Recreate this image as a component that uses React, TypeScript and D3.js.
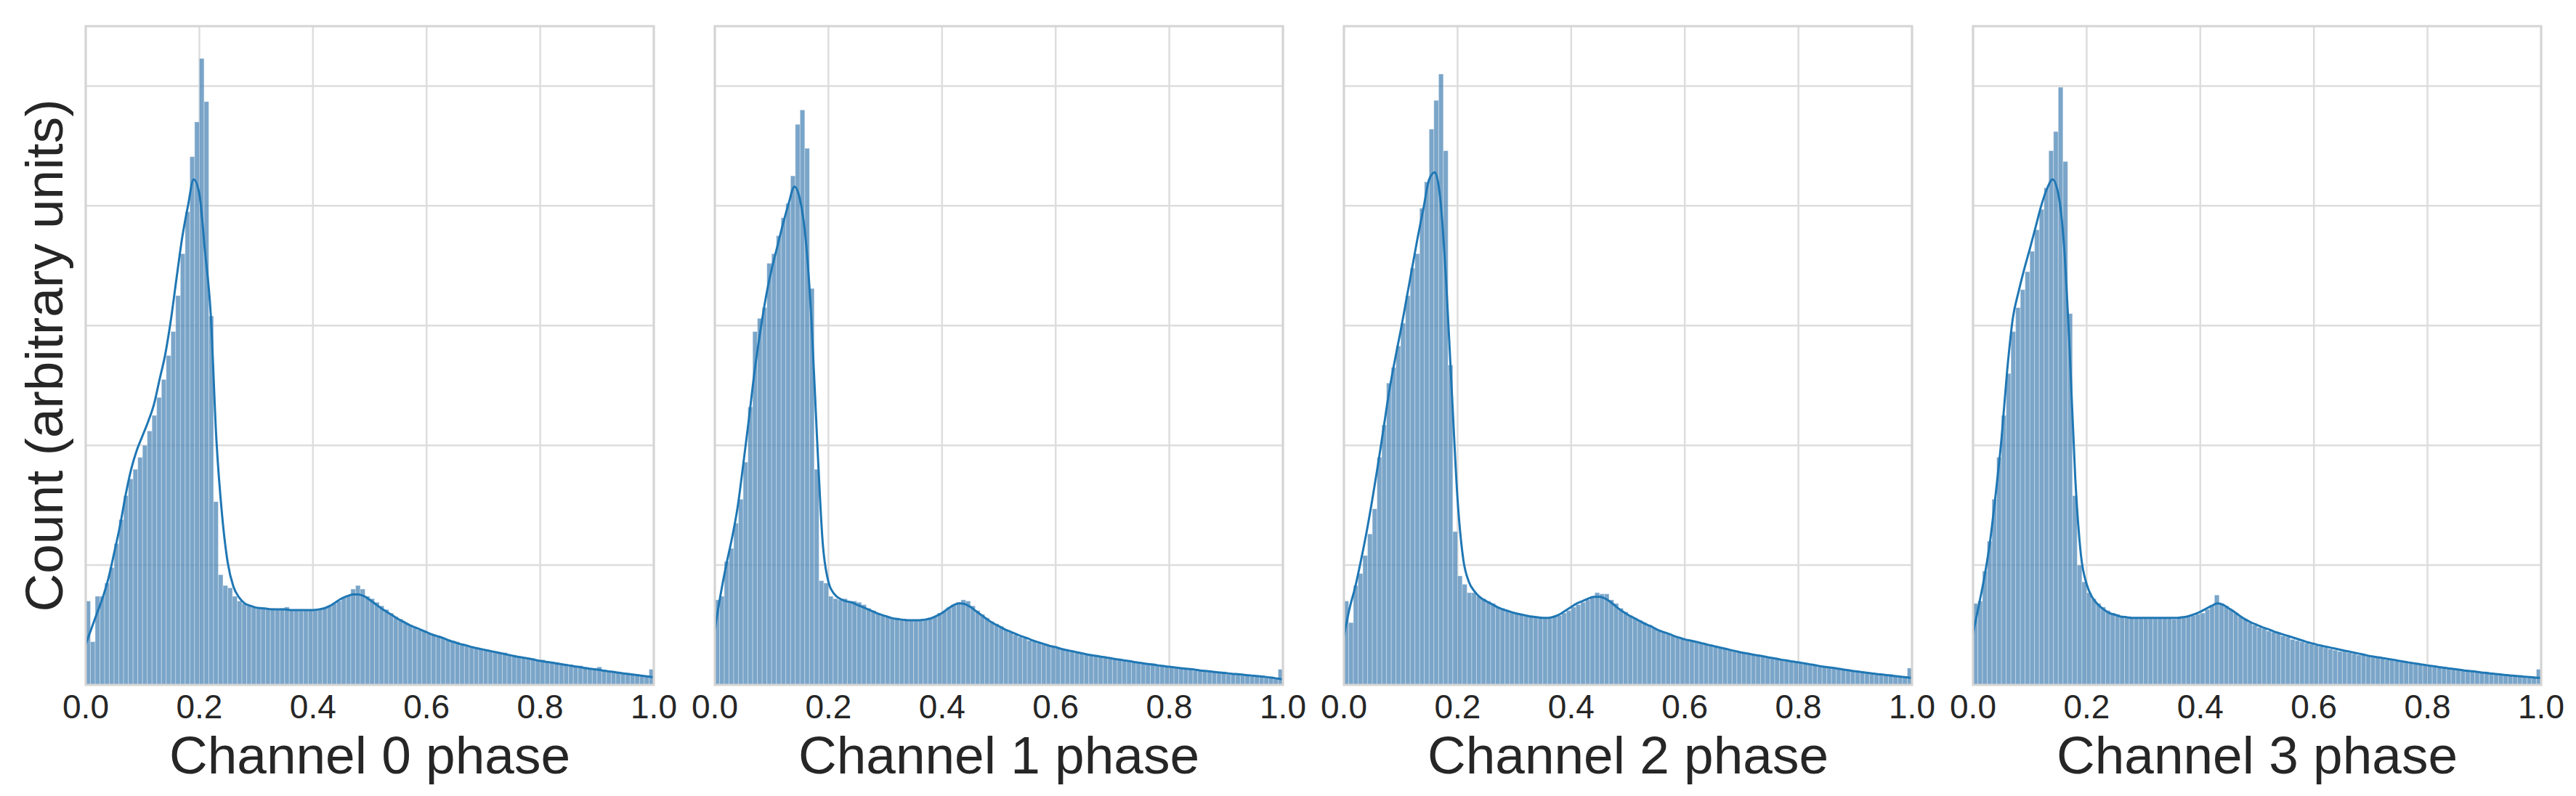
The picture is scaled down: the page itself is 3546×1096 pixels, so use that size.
import React from 'react';
import * as d3 from 'd3';

// ---------- data (arbitrary count units; gridline step = 1) ----------
const CHANNEL_LABELS = ['Channel 0 phase', 'Channel 1 phase', 'Channel 2 phase', 'Channel 3 phase'];
const X_TICKS = [0, 0.2, 0.4, 0.6, 0.8, 1.0];
const Y_GRID = [1, 2, 3, 4, 5];
const Y_MAX = 5.5;
const Y_LABEL = 'Count (arbitrary units)';

const HIST_CH0 = [
  0.70, 0.36, 0.74, 0.74, 0.85, 0.98, 1.18, 1.38, 1.58, 1.72,
  1.80, 1.90, 2.00, 2.12, 2.25, 2.40, 2.55, 2.75, 2.95, 3.25,
  3.60, 3.95, 4.41, 4.70, 5.23, 4.87, 3.08, 1.53, 0.92, 0.83,
  0.81, 0.74, 0.70, 0.68, 0.66, 0.65, 0.64, 0.64, 0.63, 0.64,
  0.63, 0.64, 0.65, 0.63, 0.63, 0.62, 0.63, 0.63, 0.62, 0.63,
  0.64, 0.66, 0.68, 0.70, 0.73, 0.75, 0.80, 0.83, 0.80, 0.74,
  0.72, 0.69, 0.66, 0.63, 0.60, 0.57, 0.55, 0.52, 0.50, 0.48,
  0.46, 0.45, 0.43, 0.42, 0.41, 0.39, 0.38, 0.37, 0.36, 0.33,
  0.33, 0.32, 0.31, 0.30, 0.29, 0.28, 0.28, 0.27, 0.27, 0.25,
  0.25, 0.24, 0.23, 0.22, 0.22, 0.21, 0.21, 0.19, 0.19, 0.19,
  0.18, 0.17, 0.17, 0.16, 0.16, 0.15, 0.14, 0.14, 0.15, 0.12,
  0.12, 0.11, 0.11, 0.10, 0.10, 0.09, 0.09, 0.08, 0.07, 0.13,
];
const HIST_CH1 = [
  0.71, 0.74, 1.03, 1.14, 1.35, 1.55, 1.86, 2.32, 2.95, 3.06,
  3.15, 3.52, 3.60, 3.75, 3.90, 4.02, 4.25, 4.68, 4.80, 4.48,
  3.31, 1.80, 0.87, 0.85, 0.74, 0.72, 0.71, 0.72, 0.70, 0.70,
  0.69, 0.67, 0.64, 0.62, 0.60, 0.58, 0.57, 0.56, 0.56, 0.55,
  0.54, 0.54, 0.54, 0.54, 0.55, 0.56, 0.57, 0.60, 0.62, 0.65,
  0.67, 0.69, 0.71, 0.70, 0.66, 0.62, 0.59, 0.56, 0.53, 0.51,
  0.49, 0.46, 0.44, 0.42, 0.40, 0.39, 0.37, 0.36, 0.35, 0.34,
  0.33, 0.32, 0.31, 0.30, 0.29, 0.28, 0.27, 0.27, 0.26, 0.25,
  0.25, 0.24, 0.23, 0.22, 0.22, 0.21, 0.20, 0.20, 0.19, 0.19,
  0.18, 0.17, 0.18, 0.16, 0.16, 0.15, 0.15, 0.14, 0.14, 0.13,
  0.13, 0.12, 0.12, 0.12, 0.11, 0.11, 0.10, 0.11, 0.09, 0.09,
  0.09, 0.08, 0.08, 0.07, 0.08, 0.07, 0.06, 0.06, 0.05, 0.13,
];
const HIST_CH2 = [
  0.70, 0.52, 0.83, 0.93, 1.08, 1.26, 1.47, 1.90, 2.17, 2.52,
  2.65, 2.83, 3.02, 3.25, 3.48, 3.60, 3.98, 4.20, 4.64, 4.88,
  5.10, 4.46, 2.67, 1.28, 0.91, 0.84, 0.77, 0.77, 0.74, 0.72,
  0.70, 0.68, 0.65, 0.64, 0.62, 0.61, 0.60, 0.59, 0.58, 0.58,
  0.57, 0.56, 0.56, 0.56, 0.57, 0.58, 0.60, 0.62, 0.65, 0.67,
  0.69, 0.71, 0.74, 0.77, 0.76, 0.76, 0.71, 0.68, 0.64, 0.61,
  0.58, 0.56, 0.54, 0.52, 0.50, 0.48, 0.46, 0.44, 0.43, 0.41,
  0.40, 0.39, 0.38, 0.37, 0.36, 0.35, 0.34, 0.33, 0.32, 0.31,
  0.30, 0.29, 0.28, 0.27, 0.27, 0.26, 0.25, 0.25, 0.24, 0.23,
  0.22, 0.22, 0.21, 0.20, 0.20, 0.19, 0.19, 0.18, 0.17, 0.17,
  0.16, 0.15, 0.15, 0.14, 0.14, 0.13, 0.12, 0.12, 0.12, 0.11,
  0.10, 0.10, 0.09, 0.09, 0.08, 0.09, 0.07, 0.07, 0.06, 0.14,
];
const HIST_CH3 = [
  0.68, 0.70, 0.95, 1.20, 1.55, 1.90, 2.25, 2.60, 2.95, 3.15,
  3.30, 3.45, 3.62, 3.80, 3.97, 4.15, 4.46, 4.62, 4.99, 4.37,
  3.10, 1.58, 1.00, 0.86, 0.77, 0.72, 0.68, 0.65, 0.62, 0.60,
  0.59, 0.57, 0.56, 0.56, 0.56, 0.56, 0.56, 0.56, 0.56, 0.56,
  0.56, 0.56, 0.55, 0.56, 0.56, 0.57, 0.58, 0.59, 0.60, 0.63,
  0.66, 0.75, 0.68, 0.66, 0.63, 0.60, 0.57, 0.55, 0.52, 0.50,
  0.48, 0.47, 0.45, 0.44, 0.43, 0.41, 0.40, 0.38, 0.37, 0.36,
  0.35, 0.34, 0.33, 0.32, 0.31, 0.30, 0.29, 0.28, 0.28, 0.27,
  0.26, 0.25, 0.25, 0.24, 0.23, 0.23, 0.22, 0.21, 0.21, 0.20,
  0.19, 0.19, 0.18, 0.18, 0.17, 0.16, 0.16, 0.15, 0.15, 0.14,
  0.14, 0.14, 0.13, 0.12, 0.12, 0.12, 0.11, 0.10, 0.11, 0.09,
  0.09, 0.09, 0.08, 0.08, 0.07, 0.08, 0.07, 0.06, 0.06, 0.13,
];

// KDE curves sampled at phase = 0.00, 0.01, ..., 1.00
const KDE_CH0 = [
  0.34, 0.47, 0.60, 0.73, 0.89, 1.10, 1.32, 1.58, 1.80, 1.96,
  2.08, 2.20, 2.34, 2.55, 2.76, 3.05, 3.40, 3.74, 4.00, 4.22,
  4.10, 3.62, 3.10, 2.05, 1.42, 1.02, 0.82, 0.73, 0.68, 0.66,
  0.645, 0.64, 0.635, 0.63, 0.63, 0.63, 0.625, 0.625, 0.625, 0.625,
  0.625, 0.63, 0.64, 0.66, 0.69, 0.72, 0.74, 0.755, 0.755, 0.74,
  0.71, 0.675, 0.64, 0.61, 0.58, 0.55, 0.525, 0.50, 0.48, 0.46,
  0.44, 0.42, 0.405, 0.39, 0.37, 0.355, 0.34, 0.33, 0.315, 0.305,
  0.295, 0.285, 0.275, 0.265, 0.255, 0.245, 0.235, 0.228, 0.22, 0.21,
  0.20, 0.193, 0.186, 0.178, 0.17, 0.163, 0.155, 0.148, 0.14, 0.133,
  0.127, 0.12, 0.113, 0.107, 0.10, 0.094, 0.088, 0.082, 0.076, 0.07,
  0.064,
];
const KDE_CH1 = [
  0.46, 0.75, 1.00, 1.22, 1.48, 1.84, 2.22, 2.62, 2.95, 3.24,
  3.47, 3.66, 3.85, 4.02, 4.16, 4.05, 3.72, 3.05, 2.05, 1.18,
  0.86, 0.76, 0.72, 0.70, 0.69, 0.67, 0.65, 0.63, 0.61, 0.59,
  0.575, 0.56, 0.55, 0.545, 0.54, 0.54, 0.54, 0.545, 0.555, 0.575,
  0.60, 0.635, 0.665, 0.68, 0.675, 0.65, 0.615, 0.58, 0.545, 0.515,
  0.49, 0.465, 0.445, 0.425, 0.405, 0.39, 0.37, 0.355, 0.34, 0.325,
  0.315, 0.30, 0.29, 0.28, 0.27, 0.26, 0.25, 0.243, 0.235, 0.228,
  0.22, 0.212, 0.205, 0.198, 0.19, 0.183, 0.176, 0.17, 0.163, 0.157,
  0.151, 0.146, 0.14, 0.135, 0.13, 0.124, 0.118, 0.113, 0.108, 0.103,
  0.098, 0.093, 0.089, 0.085, 0.08, 0.076, 0.071, 0.066, 0.06, 0.053,
  0.046,
];
const KDE_CH2 = [
  0.41, 0.64, 0.82, 1.04, 1.28, 1.55, 1.84, 2.15, 2.46, 2.72,
  2.96, 3.22, 3.48, 3.74, 3.98, 4.22, 4.28, 4.04, 3.36, 2.44,
  1.55, 1.05, 0.86, 0.78, 0.73, 0.70, 0.675, 0.65, 0.63, 0.615,
  0.60, 0.59, 0.58, 0.57, 0.565, 0.56, 0.56, 0.57, 0.59, 0.62,
  0.65, 0.68, 0.70, 0.72, 0.735, 0.735, 0.72, 0.69, 0.65, 0.615,
  0.585, 0.56, 0.535, 0.51, 0.49, 0.465, 0.445, 0.43, 0.41, 0.395,
  0.38, 0.37, 0.36, 0.348, 0.336, 0.325, 0.314, 0.303, 0.292, 0.281,
  0.27, 0.262, 0.253, 0.245, 0.237, 0.228, 0.22, 0.21, 0.203, 0.195,
  0.188, 0.18, 0.172, 0.164, 0.155, 0.148, 0.142, 0.135, 0.128, 0.121,
  0.114, 0.108, 0.102, 0.096, 0.09, 0.085, 0.079, 0.074, 0.068, 0.063,
  0.058,
];
const KDE_CH3 = [
  0.43, 0.66, 0.90, 1.20, 1.60, 2.05, 2.62, 3.06, 3.28, 3.47,
  3.64, 3.82, 4.00, 4.14, 4.22, 4.10, 3.68, 2.80, 1.72, 1.08,
  0.84, 0.73, 0.67, 0.63, 0.60, 0.585, 0.57, 0.565, 0.56, 0.56,
  0.56, 0.56, 0.56, 0.56, 0.56, 0.56, 0.56, 0.565, 0.575, 0.59,
  0.61, 0.635, 0.66, 0.68, 0.67, 0.64, 0.61, 0.575, 0.545, 0.52,
  0.50, 0.48, 0.465, 0.445, 0.43, 0.415, 0.40, 0.385, 0.37, 0.355,
  0.343, 0.33, 0.32, 0.31, 0.30, 0.29, 0.28, 0.27, 0.26, 0.25,
  0.24, 0.232, 0.225, 0.217, 0.21, 0.20, 0.192, 0.185, 0.178, 0.17,
  0.163, 0.156, 0.149, 0.142, 0.136, 0.13, 0.124, 0.118, 0.113, 0.107,
  0.101, 0.096, 0.091, 0.086, 0.082, 0.077, 0.073, 0.069, 0.065, 0.061,
  0.058,
];

const HISTS = [HIST_CH0, HIST_CH1, HIST_CH2, HIST_CH3];
const KDES = [KDE_CH0, KDE_CH1, KDE_CH2, KDE_CH3];

// ---------- layout ----------
const W = 3546;
const H = 1096;
const PANEL_LEFT = 118;
const PANEL_STEP = 866;
const PANEL_TOP = 36;
const PANEL_W = 782;
const PANEL_H = 907;
const FONT = '"Liberation Sans", Arial, Helvetica, sans-serif';
const TEXT = '#262626';
const GRID = '#dddddd';
const SPINE = '#d4d4d4';
const BAR = 'steelblue';
const LINE = '#1f77b4';

export default function App() {
  const x = d3.scaleLinear().domain([0, 1]).range([0, PANEL_W]);
  const y = d3.scaleLinear().domain([0, Y_MAX]).range([PANEL_H, 0]);
  const fmt = d3.format('.1f');

  return (
    <svg
      width={W}
      height={H}
      viewBox={`0 0 ${W} ${H}`}
      style={{ position: 'absolute', left: 0, top: 0, background: '#ffffff' }}
      fontFamily={FONT}
    >
      <rect x={0} y={0} width={W} height={H} fill="#ffffff" />
      {HISTS.map((hist, pi) => {
        const n = hist.length;
        const edges = d3.range(n + 1).map((k) => k / n);
        const kde = KDES[pi];
        const kdeX = d3.range(kde.length).map((k) => k / (kde.length - 1));
        const line = d3
          .line<number>()
          .x((_, k) => x(kdeX[k]))
          .y((d) => y(d))
          .curve(d3.curveMonotoneX);
        const left = PANEL_LEFT + pi * PANEL_STEP;
        const clipId = `clip-${pi}`;
        return (
          <g key={pi} transform={`translate(${left},${PANEL_TOP})`}>
            <defs>
              <clipPath id={clipId}>
                <rect x={0} y={0} width={PANEL_W} height={PANEL_H} />
              </clipPath>
            </defs>
            {X_TICKS.map((t) => (
              <line key={`gx${t}`} x1={x(t)} x2={x(t)} y1={0} y2={PANEL_H} stroke={GRID} strokeWidth={2.5} />
            ))}
            {Y_GRID.map((t) => (
              <line key={`gy${t}`} x1={0} x2={PANEL_W} y1={y(t)} y2={y(t)} stroke={GRID} strokeWidth={2.5} />
            ))}
            <g clipPath={`url(#${clipId})`}>
              {hist.map((v, k) => (
                <rect
                  key={k}
                  x={x(edges[k])}
                  y={y(v)}
                  width={x(edges[k + 1]) - x(edges[k])}
                  height={y(0) - y(v)}
                  fill={BAR}
                  fillOpacity={0.72}
                  stroke="#ffffff"
                  strokeOpacity={0.35}
                  strokeWidth={1}
                />
              ))}
              <path d={line(kde) || ''} fill="none" stroke={LINE} strokeWidth={3} strokeLinejoin="round" />
            </g>
            <rect x={0} y={0} width={PANEL_W} height={PANEL_H} fill="none" stroke={SPINE} strokeWidth={3} />
            {X_TICKS.map((t) => (
              <text key={`tl${t}`} x={x(t)} y={PANEL_H + 46} textAnchor="middle" fontSize={46} fill={TEXT}>
                {fmt(t)}
              </text>
            ))}
            <text x={PANEL_W / 2} y={PANEL_H + 122} textAnchor="middle" fontSize={73} fill={TEXT}>
              {CHANNEL_LABELS[pi]}
            </text>
          </g>
        );
      })}
      <text
        transform={`translate(86,${PANEL_TOP + PANEL_H / 2}) rotate(-90)`}
        textAnchor="middle"
        fontSize={73}
        fill={TEXT}
      >
        {Y_LABEL}
      </text>
    </svg>
  );
}
